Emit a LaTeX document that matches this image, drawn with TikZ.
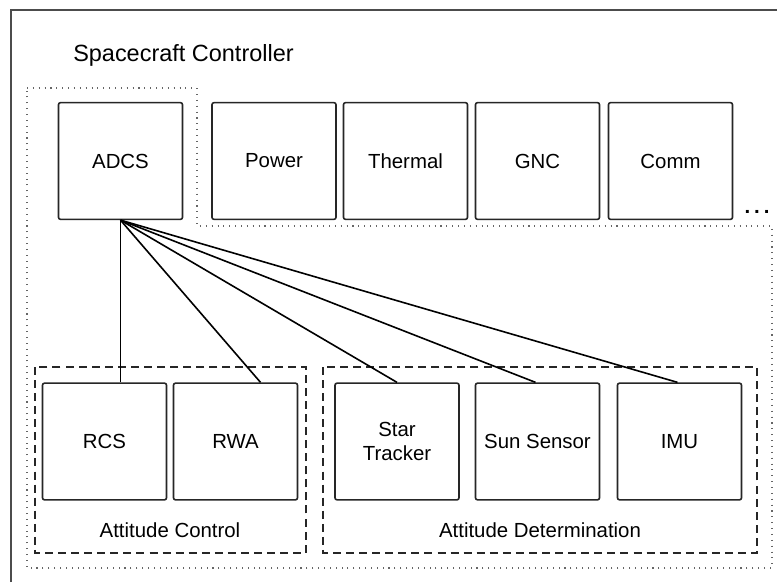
\documentclass[tikz,border=0pt]{standalone}
\usepackage{fontspec}
\setmainfont{Liberation Sans}
\usetikzlibrary{calc}
\begin{document}
\begin{tikzpicture}[x=0.75pt,y=-0.75pt,
  unit/.style={draw=black!85,line width=1.2pt,rounded corners=1.5pt,minimum width=93pt,minimum height=87.5pt,inner sep=0pt,align=center,font=\fontsize{15.3}{17.5}\selectfont},
  grp/.style={draw=black!85,line width=1.2pt,dash pattern=on 6pt off 3.8pt},
  dotline/.style={draw=black!60,line width=0.8pt,dash pattern=on 0.8pt off 3.6pt},
  lbl/.style={font=\fontsize{15.3}{17.5}\selectfont,inner sep=0pt},
  conn/.style={draw=black,line width=1.2pt}]
\useasboundingbox (0,0) rectangle (777,582);
\fill[white] (0,0) rectangle (777,582);
% outer frame
\draw[black!70,line width=1.3pt] (11,582) -- (11,10) -- (777,10);
\node[lbl,anchor=west,font=\fontsize{17.6}{20}\selectfont] (title) at (73,55) {Spacecraft Controller};
% dotted region
\draw[dotline] (27,88) -- (197,88) -- (197,226) -- (772,226) -- (772,568) -- (27,568) -- cycle;
% top units
\node[unit] (adcs) at (120.5,161) {ADCS};
\node[unit] (power) at (274,161) {Power};
\node[unit] (thermal) at (405.5,161) {Thermal};
\node[unit] (gnc) at (537.5,161) {GNC};
\node[unit] (comm) at (670.5,161) {Comm};
\node[lbl,font=\bfseries\fontsize{15.3}{17.5}\selectfont] (more) at (757,212) {.\hspace{3pt}.\hspace{3pt}.};
% groups
\draw[grp] (35,367) rectangle (306,553);
\draw[grp] (323,367) rectangle (757,553);
\node[lbl] (aclbl) at (170,530) {Attitude Control};
\node[lbl] (adlbl) at (540,530) {Attitude Determination};
% bottom units
\node[unit] (rcs) at (104.5,441.5) {RCS};
\node[unit] (rwa) at (235.5,441.5) {RWA};
\node[unit] (star) at (397,441.5) {Star\\Tracker};
\node[unit] (sun) at (537.5,441.5) {Sun Sensor};
\node[unit] (imu) at (679.5,441.5) {IMU};
% connectors
\draw[conn] (adcs.south) -- (adcs.south |- rcs.north);
\draw[conn] (adcs.south) -- ($(rwa.north)+(25,0)$);
\draw[conn] (adcs.south) -- (star.north);
\draw[conn] (adcs.south) -- ($(sun.north)+(-2,0)$);
\draw[conn] (adcs.south) -- ($(imu.north)+(-2,0)$);
\end{tikzpicture}
\end{document}
